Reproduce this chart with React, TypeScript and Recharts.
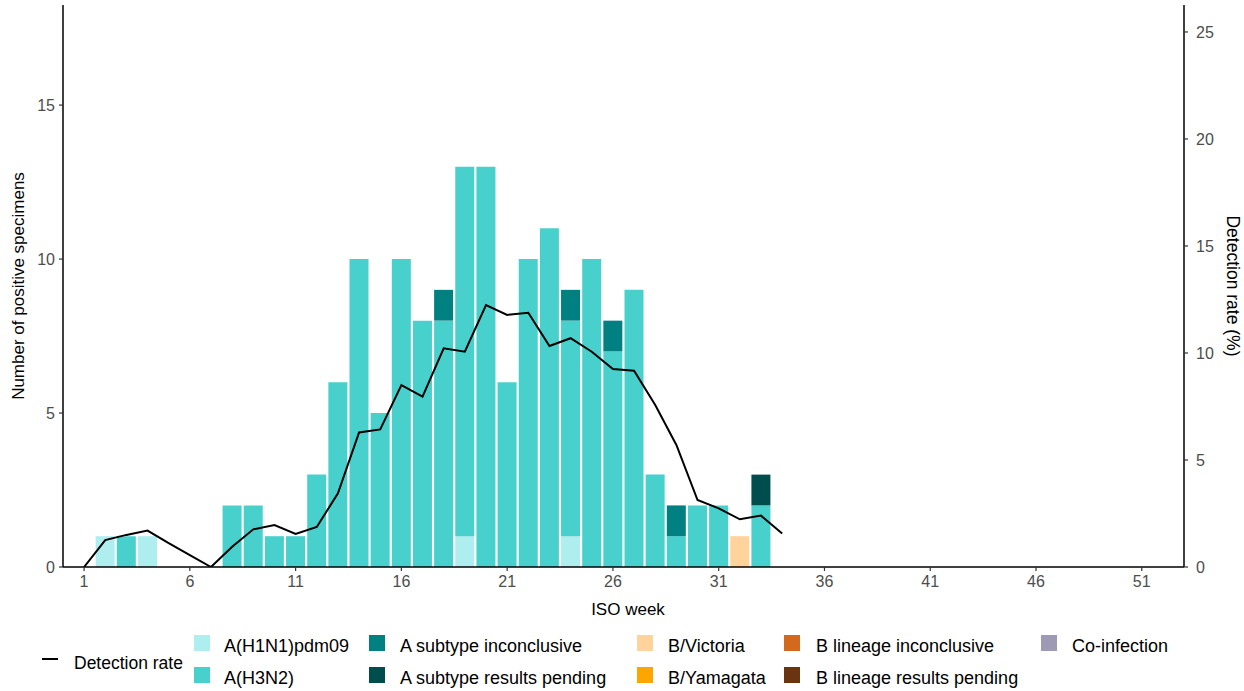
import React from "react";
import { ComposedChart, Bar, Line, XAxis, YAxis } from "recharts";

const weeks = [1,2,3,4,5,6,7,8,9,10,11,12,13,14,15,16,17,18,19,20,21,22,23,24,25,26,27,28,29,30,31,32,33,34,35,36,37,38,39,40,41,42,43,44,45,46,47,48,49,50,51,52];
const h1n1 =     [0,1,0,1,0,0,0,0,0,0,0,0,0,0,0,0,0,0,1,0,0,0,0,1,0,0,0,0,0,0,0,0,0,0,0,0,0,0,0,0,0,0,0,0,0,0,0,0,0,0,0,0];
const h3n2 =     [0,0,1,0,0,0,0,2,2,1,1,3,6,10,5,10,8,8,12,13,6,10,11,7,10,7,9,3,1,2,2,0,2,0,0,0,0,0,0,0,0,0,0,0,0,0,0,0,0,0,0,0];
const aIncon =   [0,0,0,0,0,0,0,0,0,0,0,0,0,0,0,0,0,1,0,0,0,0,0,1,0,1,0,0,1,0,0,0,0,0,0,0,0,0,0,0,0,0,0,0,0,0,0,0,0,0,0,0];
const aPending = [0,0,0,0,0,0,0,0,0,0,0,0,0,0,0,0,0,0,0,0,0,0,0,0,0,0,0,0,0,0,0,0,1,0,0,0,0,0,0,0,0,0,0,0,0,0,0,0,0,0,0,0];
const bVic =     [0,0,0,0,0,0,0,0,0,0,0,0,0,0,0,0,0,0,0,0,0,0,0,0,0,0,0,0,0,0,0,1,0,0,0,0,0,0,0,0,0,0,0,0,0,0,0,0,0,0,0,0];
const bYam =     [0,0,0,0,0,0,0,0,0,0,0,0,0,0,0,0,0,0,0,0,0,0,0,0,0,0,0,0,0,0,0,0,0,0,0,0,0,0,0,0,0,0,0,0,0,0,0,0,0,0,0,0];
const bIncon =   [0,0,0,0,0,0,0,0,0,0,0,0,0,0,0,0,0,0,0,0,0,0,0,0,0,0,0,0,0,0,0,0,0,0,0,0,0,0,0,0,0,0,0,0,0,0,0,0,0,0,0,0];
const bPending = [0,0,0,0,0,0,0,0,0,0,0,0,0,0,0,0,0,0,0,0,0,0,0,0,0,0,0,0,0,0,0,0,0,0,0,0,0,0,0,0,0,0,0,0,0,0,0,0,0,0,0,0];
const coInf =    [0,0,0,0,0,0,0,0,0,0,0,0,0,0,0,0,0,0,0,0,0,0,0,0,0,0,0,0,0,0,0,0,0,0,0,0,0,0,0,0,0,0,0,0,0,0,0,0,0,0,0,0];
const detectionRate: (number | null)[] = [
  0, 1.26, 1.5, 1.7, 1.12, 0.56, 0, 0.95, 1.76, 1.96, 1.54, 1.87, 3.44, 6.29, 6.43, 8.5, 7.96,
  10.22, 10.06, 12.24, 11.78, 11.88, 10.33, 10.69, 10.06, 9.25, 9.17, 7.57, 5.7, 3.13, 2.74, 2.23,
  2.4, 1.57,
  null, null, null, null, null, null, null, null, null, null, null, null, null, null, null, null, null, null,
];
const leftTicks = [0, 5, 10, 15];
const rightTicks = [0, 5, 10, 15, 20, 25];

const series = [
  { key: "h1n1", name: "A(H1N1)pdm09", color: "#AFEEEE", values: h1n1 },
  { key: "h3n2", name: "A(H3N2)", color: "#48D1CC", values: h3n2 },
  { key: "aIncon", name: "A subtype inconclusive", color: "#008080", values: aIncon },
  { key: "aPending", name: "A subtype results pending", color: "#004D4D", values: aPending },
  { key: "bVic", name: "B/Victoria", color: "#FFD39B", values: bVic },
  { key: "bYam", name: "B/Yamagata", color: "#FFA500", values: bYam },
  { key: "bIncon", name: "B lineage inconclusive", color: "#D2691E", values: bIncon },
  { key: "bPending", name: "B lineage results pending", color: "#6B3410", values: bPending },
  { key: "coInf", name: "Co-infection", color: "#9E9AB5", values: coInf },
];

const data = weeks.map((w, i) => {
  const row: Record<string, number | null> = { week: w, rate: detectionRate[i] };
  series.forEach((s) => (row[s.key] = s.values[i]));
  return row;
});

const FONT = "'Liberation Sans', Arial, sans-serif";
const tickStyle = { fill: "#4D4D4D", fontSize: 16, fontFamily: FONT };

const legendCols = [
  { x: 194, tx: 224, items: [0, 1] },
  { x: 369, tx: 400, items: [2, 3] },
  { x: 637, tx: 668, items: [4, 5] },
  { x: 784, tx: 816, items: [6, 7] },
  { x: 1041, tx: 1072, items: [8] },
];
const rowY = [646, 678];

export default function App() {
  return (
    <div style={{ position: "absolute", left: 0, top: 0, width: 1244, height: 691, background: "#fff", fontFamily: FONT }}>
      <ComposedChart width={1244} height={625} data={data} margin={{ top: 5, right: 0, bottom: 0, left: 0 }}>
        <XAxis
          dataKey="week"
          interval={4}
          padding={{ left: 10.5, right: 10.5 }}
          height={58}
          tick={tickStyle}
          tickSize={4}
          tickMargin={5}
          axisLine={{ stroke: "#000", strokeWidth: 1.5 }}
          tickLine={{ stroke: "#333", strokeWidth: 1.2 }}
          yAxisId="left"
        />
        <YAxis
          yAxisId="left"
          orientation="left"
          width={63}
          domain={[0, 18.25]}
          ticks={leftTicks}
          allowDataOverflow
          tick={tickStyle}
          tickSize={4}
          tickMargin={4}
          axisLine={{ stroke: "#000", strokeWidth: 1.5 }}
          tickLine={{ stroke: "#333", strokeWidth: 1.2 }}
        />
        <YAxis
          yAxisId="right"
          orientation="right"
          width={60}
          domain={[0, 26.26]}
          ticks={rightTicks}
          allowDataOverflow
          tick={tickStyle}
          tickSize={4}
          tickMargin={8}
          axisLine={{ stroke: "#000", strokeWidth: 1.5 }}
          tickLine={{ stroke: "#333", strokeWidth: 1.2 }}
        />
        {series.map((s) => (
          <Bar
            key={s.key}
            dataKey={s.key}
            name={s.name}
            stackId="a"
            yAxisId="left"
            fill={s.color}
            barSize={19}
            isAnimationActive={false}
          />
        ))}
        <Line
          dataKey="rate"
          name="Detection rate"
          yAxisId="right"
          type="linear"
          stroke="#000"
          strokeWidth={2}
          dot={false}
          activeDot={false}
          connectNulls={false}
          isAnimationActive={false}
        />
      </ComposedChart>
      <svg width={1244} height={691} style={{ position: "absolute", left: 0, top: 0, pointerEvents: "none" }}>
        <text x={18} y={286} transform="rotate(-90 18 286)" textAnchor="middle" dominantBaseline="central" fontSize={17} fill="#000" fontFamily={FONT}>
          Number of positive specimens
        </text>
        <text x={1233} y={286} transform="rotate(90 1233 286)" textAnchor="middle" dominantBaseline="central" fontSize={17.5} fill="#000" fontFamily={FONT}>
          Detection rate (%)
        </text>
        <text x={628} y={609} textAnchor="middle" dominantBaseline="central" fontSize={17} fill="#000" fontFamily={FONT}>
          ISO week
        </text>
        <line x1={42} x2={58} y1={659} y2={659} stroke="#000" strokeWidth={2} />
        <text x={74} y={663} dominantBaseline="central" fontSize={17.5} fill="#000" fontFamily={FONT}>
          Detection rate
        </text>
        {legendCols.map((c, ci) =>
          c.items.map((idx, ri) => (
            <g key={`${ci}-${ri}`}>
              <rect x={c.x} y={rowY[ri] - 11} width={16} height={16} fill={series[idx].color} />
              <text x={c.tx} y={rowY[ri]} dominantBaseline="central" fontSize={18} fill="#000" fontFamily={FONT}>
                {series[idx].name}
              </text>
            </g>
          ))
        )}
      </svg>
    </div>
  );
}
